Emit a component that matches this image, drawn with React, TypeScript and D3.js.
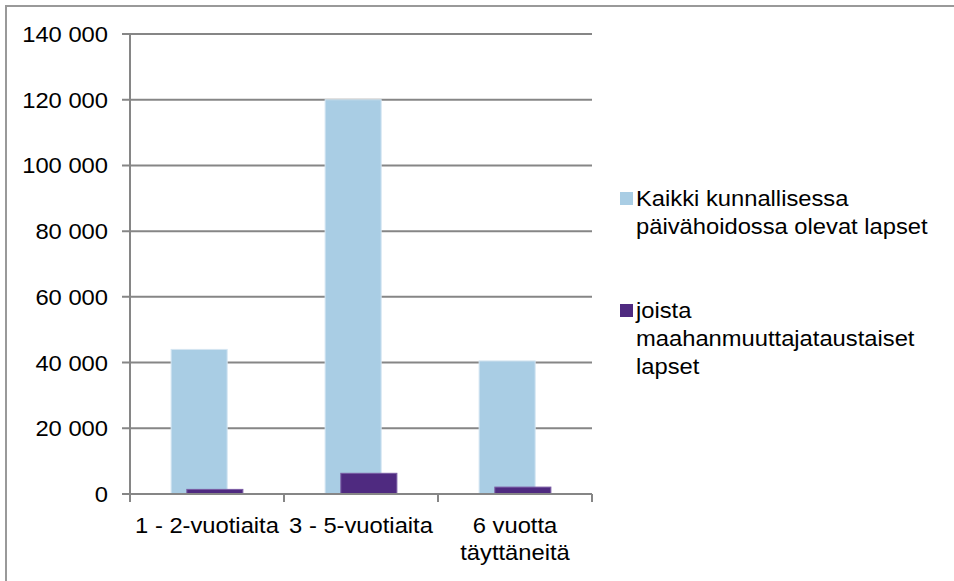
import React, { useEffect, useRef } from 'react';
import * as d3 from 'd3';

const categories = ['1 - 2-vuotiaita', '3 - 5-vuotiaita', '6 vuotta täyttäneitä'];
const categoryLines = [['1 - 2-vuotiaita'], ['3 - 5-vuotiaita'], ['6 vuotta', 'täyttäneitä']];
const allChildren = [44000, 120000, 40500];
const immigrantChildren = [1400, 6300, 2100];
const seriesNames = ['Kaikki kunnallisessa päivähoidossa olevat lapset', 'joista maahanmuuttajataustaiset lapset'];
const legendLines = [['Kaikki kunnallisessa', 'päivähoidossa olevat lapset'], ['joista', 'maahanmuuttajataustaiset', 'lapset']];
const yTicks = [0, 20000, 40000, 60000, 80000, 100000, 120000, 140000];

const colors = ['#a9cde4', '#4f2a80'];
const FONT = '"Liberation Sans", Arial, sans-serif';
const FS = 22;
const SX = 1.08; // text in the original looks a bit stretched sideways

const App = () => {
    const ref = useRef<SVGSVGElement | null>(null);

    useEffect(() => {
        const svg = d3.select(ref.current);
        svg.selectAll('*').remove();

        svg.append('rect')
            .attr('x', 6).attr('y', 6)
            .attr('width', 960).attr('height', 590)
            .attr('fill', '#fff')
            .attr('stroke', '#999').attr('stroke-width', 2);

        const left = 130, right = 592, top = 34, bottom = 494;

        const x0 = d3.scaleBand<string>()
            .domain(categories)
            .range([left, right])
            .padding(0);
        const bw = x0.bandwidth();
        const x1 = d3.scalePoint<string>()
            .domain(seriesNames)
            .range([bw * 0.449, bw * 0.551]);
        const barW = bw * 0.364;

        const y = d3.scaleLinear()
            .domain([0, 140000])
            .range([bottom, top]);

        const fmt = d3.formatLocale({ decimal: ',', thousands: ' ', grouping: [3], currency: ['', '€'] }).format(',d');

        // gridlines + y ticks
        const yg = svg.append('g');
        yg.selectAll('line')
            .data(yTicks)
            .enter().append('line')
            .attr('x1', left - 8).attr('x2', right)
            .attr('y1', d => y(d)).attr('y2', d => y(d))
            .attr('stroke', '#868686').attr('stroke-width', 2);
        yg.selectAll('text')
            .data(yTicks)
            .enter().append('text')
            .attr('transform', d => `translate(108,${y(d) + 8}) scale(${SX},1)`)
            .attr('text-anchor', 'end')
            .attr('font-family', FONT).attr('font-size', FS)
            .attr('fill', '#000')
            .text(d => fmt(d));

        // y axis line
        svg.append('line')
            .attr('x1', left).attr('x2', left)
            .attr('y1', top).attr('y2', bottom)
            .attr('stroke', '#868686').attr('stroke-width', 2);

        // x ticks
        const edges = categories.map(c => x0(c) as number).concat([right]);
        svg.selectAll('.xtick')
            .data(edges)
            .enter().append('line')
            .attr('class', 'xtick')
            .attr('x1', d => d).attr('x2', d => d)
            .attr('y1', bottom).attr('y2', bottom + 8)
            .attr('stroke', '#868686').attr('stroke-width', 2);

        // bars
        const seriesData = [allChildren, immigrantChildren];
        seriesData.forEach((vals, si) => {
            svg.append('g')
                .selectAll('rect')
                .data(vals)
                .enter().append('rect')
                .attr('x', (d, i) => (x0(categories[i]) as number) + (x1(seriesNames[si]) as number) - barW / 2)
                .attr('y', d => y(d))
                .attr('width', barW)
                .attr('height', d => bottom - y(d))
                .attr('fill', colors[si])
                .attr('stroke', si === 0 ? '#d4e6f2' : '#7a5ca3')
                .attr('stroke-width', 1);
        });

        // redraw baseline over bars
        svg.append('line')
            .attr('x1', left - 8).attr('x2', right)
            .attr('y1', bottom).attr('y2', bottom)
            .attr('stroke', '#868686').attr('stroke-width', 2);

        // x labels
        categoryLines.forEach((lines, i) => {
            const cx = (x0(categories[i]) as number) + bw / 2;
            lines.forEach((ln, li) => {
                svg.append('text')
                    .attr('transform', `translate(${cx},${533 + li * 27}) scale(${SX},1)`)
                    .attr('text-anchor', 'middle')
                    .attr('font-family', FONT).attr('font-size', FS)
                    .attr('fill', '#000')
                    .text(ln);
            });
        });

        // legend
        const legendY = [206, 318];
        legendLines.forEach((lines, si) => {
            svg.append('rect')
                .attr('x', 620).attr('y', legendY[si] - 14)
                .attr('width', 13).attr('height', 13)
                .attr('fill', colors[si]);
            lines.forEach((ln, li) => {
                svg.append('text')
                    .attr('transform', `translate(636,${legendY[si] + li * 28}) scale(${SX},1)`)
                    .attr('font-family', FONT).attr('font-size', FS)
                    .attr('fill', '#000')
                    .text(ln);
            });
        });
    }, []);

    return (
        <svg ref={ref} width={954} height={581}
            style={{ position: 'absolute', left: 0, top: 0, background: '#fff' }} />
    );
};

export default App;
